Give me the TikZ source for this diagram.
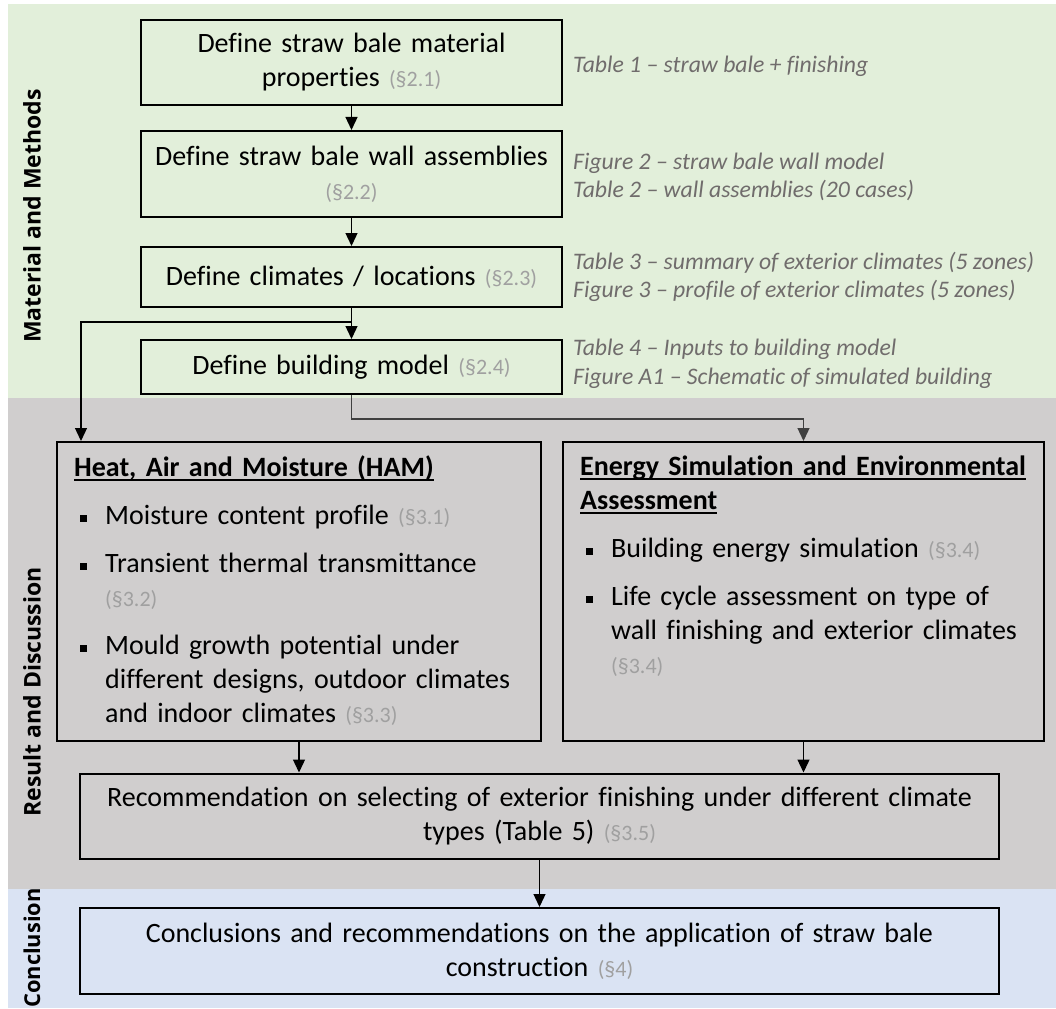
\documentclass[tikz,border=0pt]{standalone}
\usepackage{fontspec}
\setmainfont{Carlito}[Ligatures=NoCommon]
\newfontfamily\labelfont{Open Sans}
\usepackage{xcolor}
\usetikzlibrary{positioning,arrows.meta}

\definecolor{mmgreen}{RGB}{226,239,218}
\definecolor{rdgray}{RGB}{208,206,206}
\definecolor{conblue}{RGB}{218,227,243}
\definecolor{notegray}{RGB}{112,108,108}
\definecolor{refgray}{RGB}{160,160,160}

\newcommand{\secref}[1]{{\fontsize{22}{34}\selectfont\color{refgray}(\S#1)}}
\newcommand{\ulhead}[1]{\leavevmode\setbox0\hbox{\bfseries #1}\rlap{\rule[-4pt]{\wd0}{1.6pt}}\box0}
\newenvironment{findings}{%
  \begin{list}{\raisebox{3pt}{\rule{7pt}{7pt}}}{%
    \setlength{\leftmargin}{31pt}\setlength{\labelwidth}{13pt}%
    \setlength{\labelsep}{18pt}\setlength{\itemsep}{14pt}%
    \setlength{\parsep}{0pt}\setlength{\topsep}{14pt}\setlength{\partopsep}{0pt}}}%
  {\end{list}}

\begin{document}
\begin{tikzpicture}[x=1pt, y=-1pt,
        stepbox/.style={draw, line width=2pt, inner sep=0pt, minimum width=421pt,
            text width=400pt, align=center, font=\fontsize{28}{34}\selectfont},
        listtext/.style={anchor=north west, inner sep=0pt, text width=450pt, align=left,
            font=\fontsize{28}{34}\selectfont},
        note/.style={inner sep=0pt, align=left, text=notegray,
            font=\itshape\fontsize{23.7}{28.5}\selectfont},
        phase/.style={rotate=90, inner sep=0pt, font=\labelfont\bfseries\fontsize{23}{28}\selectfont},
        flow/.style={line width=1.3pt, -{Triangle[width=12pt,length=13pt]}}]

    \useasboundingbox (0,0) rectangle (1056,1008);

    % phase backgrounds
    \fill[mmgreen] (8,4) rectangle (1056,398);
    \fill[rdgray] (8,398) rectangle (1056,889);
    \fill[conblue] (8,889) rectangle (1056,1008);

    \node[phase] (mm) at (32,216) {Material and Methods};
    \node[phase] (rd) at (32,692) {Result and Discussion};
    \node[phase, scale=0.95] (cc) at (32,948) {Conclusion};

    % material and methods
    \node[stepbox, minimum height=85pt] (matprop) at (351.5,62.5) {Define straw bale material\\properties \secref{2.1}};
    \node[stepbox, minimum height=86pt] (wall) at (351.5,174) {Define straw bale wall assemblies\\\secref{2.2}};
    \node[stepbox, minimum height=60pt] (clim) at (351.5,277) {Define climates / locations \secref{2.3}};
    \node[stepbox, minimum height=54pt] (bldg) at (351.5,367) {Define building model \secref{2.4}};

    \node[note, right=10pt of matprop, yshift=-4pt] (matnote) {Table 1 -- straw bale + finishing};
    \node[note, right=10pt of wall, yshift=-3pt] (wallnote) {Figure 2 -- straw bale wall model\\Table 2 -- wall assemblies (20 cases)};
    \node[note, right=10pt of clim] (climnote) {Table 3 -- summary of exterior climates (5 zones)\\Figure 3 -- profile of exterior climates (5 zones)};
    \node[note, right=10pt of bldg, yshift=3pt] (bldgnote) {Table 4 -- Inputs to building model\\Figure A1 -- Schematic of simulated building};

    % result and discussion
    \node[stepbox, minimum width=484pt, minimum height=299pt, anchor=north west] (ham) at (56,441) {};
    \node[listtext] (hamtext) at ([xshift=18pt,yshift=-15pt]ham.north west) {\ulhead{Heat, Air and Moisture (HAM)}
        \begin{findings}
            \item Moisture content profile \secref{3.1}
            \item Transient thermal transmittance\\\secref{3.2}
            \item Mould growth potential under\\different designs, outdoor climates\\and indoor climates \secref{3.3}
        \end{findings}};

    \node[stepbox, minimum width=481pt, minimum height=299pt, anchor=north west] (energy) at (562,441) {};
    \node[listtext] (energytext) at ([xshift=18pt,yshift=-15pt]energy.north west) {\ulhead{Energy Simulation and Environmental}\\\ulhead{Assessment}
        \begin{findings}
            \item Building energy simulation \secref{3.4}
            \item Life cycle assessment on type of\\wall finishing and exterior climates\\\secref{3.4}
        \end{findings}};

    \node[stepbox, minimum width=919pt, text width=900pt, minimum height=85pt] (recom) at (539.5,816) {Recommendation on selecting of exterior finishing under different climate\\types (Table 5) \secref{3.5}};

    % conclusion
    \node[stepbox, minimum width=919pt, text width=900pt, minimum height=86pt] (concl) at (539.5,951) {Conclusions and recommendations on the application of straw bale\\construction \secref{4}};

    % connectors
    \coordinate (split) at (351.5,322);
    \draw[flow] (matprop) -- (wall);
    \draw[flow] (wall) -- (clim);
    \draw[flow] (clim) -- (bldg);
    \draw[flow] (split) -| ([xshift=25pt]ham.north west);
    \draw[flow, draw=black!75] (bldg.south) -- ++(0,24) -| (energy.north);
    \draw[flow] (ham.south) -- (ham.south |- recom.north);
    \draw[flow] (energy.south) -- (energy.south |- recom.north);
    \draw[flow] (recom) -- (concl);
\end{tikzpicture}
\end{document}
